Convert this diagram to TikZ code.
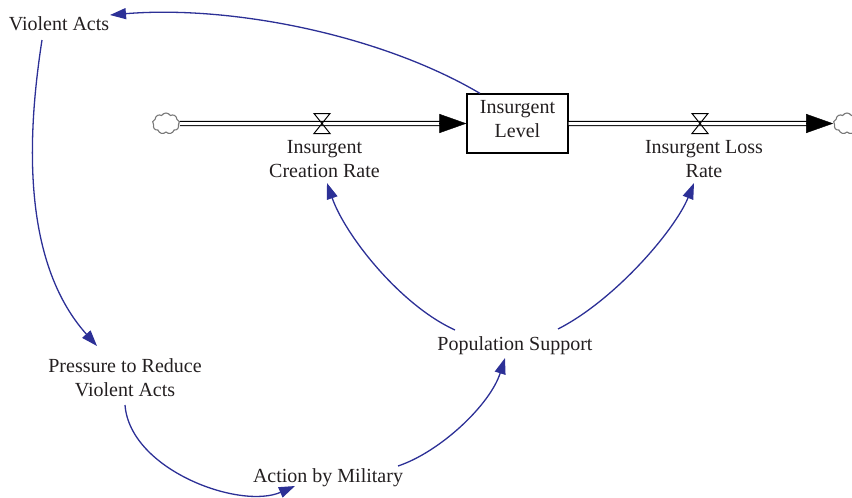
\documentclass[tikz,border=0pt]{standalone}
\usepackage{fontspec}
\setmainfont{Liberation Serif}
\usetikzlibrary{arrows.meta,shapes.symbols,calc}
\definecolor{linkblue}{RGB}{44,48,150}
\definecolor{txt}{RGB}{35,31,32}
\definecolor{cloudgray}{RGB}{120,120,120}
\begin{document}
\begin{tikzpicture}[x=1pt,y=1pt,
  lbl/.style={font=\fontsize{20}{24}\selectfont, text=txt, align=center, inner sep=0pt, anchor=base},
  link/.style={draw=linkblue, line width=1.3pt, -{Triangle[length=16pt,width=11pt]}},
  pipe/.style={draw=black, line width=1.2pt, double=white, double distance=3pt},
  pipehead/.style={draw=black, line width=0.4pt, -{Triangle[length=27pt,width=19pt]}},
  stockbox/.style={draw=black, line width=1.2pt, fill=white, minimum width=101pt, minimum height=59pt,
    inner sep=0pt, align=center, font=\fontsize{20}{24}\selectfont, text=txt},
  sourcecloud/.style={cloud, cloud puffs=9, cloud puff arc=120, aspect=1.3, draw=cloudgray, line width=1.1pt,
    fill=white, minimum width=27pt, minimum height=21pt, inner sep=0pt},
  valveshape/.style={draw=black, line width=1pt}
]
\useasboundingbox (0,0) rectangle (852,-498);

% stock and clouds
\node[stockbox] (stock) at (517.5,-123.5) {Insurgent\\Level\rule[-10pt]{0pt}{0pt}};
\node[sourcecloud] (cL) at (166,-123.5) {};
\node[sourcecloud] (cR) at (847,-123.5) {};

% pipes
\draw[pipe, shorten >=26pt] (cL.east) -- (stock.west);
\draw[pipehead] ([xshift=-27pt]stock.west) -- (stock.west);
\draw[pipe, shorten >=26pt] (stock.east) -- (cR.west);
\draw[pipehead] ([xshift=-27pt]cR.west) -- (cR.west);

% valves
\coordinate (v1) at (322,-123.5);
\coordinate (v2) at (700,-123.5);
\foreach \v in {v1,v2}{
  \draw[valveshape] ($(\v)+(-8,10)$) -- ($(\v)+(8,10)$) -- ($(\v)+(-8,-10)$) -- ($(\v)+(8,-10)$) -- cycle;
}

% labels (base anchor = baseline of the last line)
\node[lbl] (VA) at (59,-30) {Violent Acts};
\node[lbl] (ICR) at (324.5,-177) {Insurgent\\Creation Rate};
\node[lbl] (ILR) at (704,-177) {Insurgent Loss\\Rate};
\node[lbl] (PS) at (515,-350) {Population Support};
\node[lbl] (PR) at (125,-396) {Pressure to Reduce\\Violent Acts};
\node[lbl] (AM) at (328,-482) {Action by Military};

% links
\draw[link] ([xshift=-37.5pt]stock.north) .. controls +(-100,59) and +(120,10) .. ($(VA.base)+(51,15)$);
\draw[link] ($(VA.base)+(-17,-10)$) .. controls +(-14,-90) and +(-77,86) .. ($(PR.base)+(-28,50)$);
\draw[link] ($(PR.base)+(0,-9)$) .. controls +(5,-65) and +(-55,-24) .. ($(AM.base)+(-33,-4)$);
\draw[link] ($(AM.base)+(70,16)$) .. controls +(42,14) and +(-15,-47) .. ($(PS.base)+(-10,-8)$);
\draw[link] ($(PS.base)+(-60,20)$) .. controls +(-55,25) and +(18,-52) .. ($(ICR.base)+(2.5,-6)$);
\draw[link] ($(PS.base)+(43,21)$) .. controls +(57,29) and +(-19,-47) .. ($(ILR.base)+(-10,-6)$);
\end{tikzpicture}
\end{document}
